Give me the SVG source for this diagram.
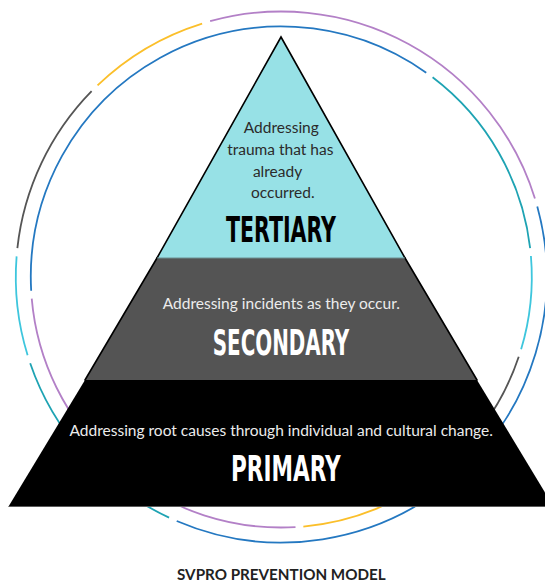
<svg xmlns="http://www.w3.org/2000/svg" width="545" height="583" viewBox="0 0 545 583">
  <style>
    .arc { fill: none; stroke-width: 1.8; stroke-linecap: butt; }
    .purple { stroke: #b380c7; }
    .yellow { stroke: #fbbf2a; }
    .blue { stroke: #2478c1; }
    .teal { stroke: #1ea3b3; }
    .cyan { stroke: #3ec6dd; }
    .grey { stroke: #555555; }
    .edge { fill: none; stroke: #000000; stroke-width: 1.6; stroke-linecap: round; }
    .desc { font-family: Lato, "Open Sans", "Liberation Sans", sans-serif; font-size: 15.5px; text-anchor: middle; }
    .head { font-family: "Liberation Sans Narrow", "DejaVu Sans Condensed", "Liberation Sans", sans-serif; font-weight: bold; font-size: 35px; text-anchor: middle; }
    .dark { fill: #2b2b2b; }
    .light { fill: #ececec; }
    .white { fill: #ffffff; }
    .caption { font-family: Lato, "Open Sans", "Liberation Sans", sans-serif; font-weight: bold; font-size: 15.2px; text-anchor: middle; fill: #222222; }
  </style>

  <!-- two concentric rings of coloured arcs, centre (281.3, 277) -->
  <g id="rings">
    <!-- outer ring, r = 265.5 -->
    <path class="arc grey" d="M17.38,248.10 A265.5,265.5 0 0 1 91.61,91.24"/>
    <path class="arc yellow" d="M97.54,85.37 A265.5,265.5 0 0 1 202.13,23.58"/>
    <path class="arc purple" d="M210.12,21.22 A265.5,265.5 0 0 1 534.93,198.49"/>
    <path class="arc blue" d="M537.27,206.49 A265.5,265.5 0 0 1 176.71,521.03"/>
    <path class="arc teal" d="M169.09,517.63 A265.5,265.5 0 0 1 30.18,363.21"/>
    <path class="arc cyan" d="M27.61,355.30 A265.5,265.5 0 0 1 16.60,256.40"/>
    <!-- inner ring, r = 250.5 -->
    <path class="arc blue" d="M31.18,290.77 A250.5,250.5 0 0 1 426.23,72.68"/>
    <path class="arc teal" d="M432.58,77.34 A250.5,250.5 0 0 1 530.14,248.21"/>
    <path class="arc cyan" d="M530.92,256.04 A250.5,250.5 0 0 1 521.13,349.32"/>
    <path class="arc grey" d="M518.74,356.82 A250.5,250.5 0 0 1 445.31,466.34"/>
    <path class="arc yellow" d="M439.34,471.35 A250.5,250.5 0 0 1 303.35,526.53"/>
    <path class="arc purple" d="M295.50,527.10 A250.5,250.5 0 0 1 31.73,298.62"/>
  </g>

  <!-- pyramid levels, bottom to top -->
  <g id="primary">
    <path d="M85,380 L477,380 L553.5,506.5 L8.5,506.5 Z" fill="#000000"/>
    <line x1="8.5" y1="506.5" x2="545" y2="506.5" stroke="#5a5a5a" stroke-width="1"/>
    <text class="desc light" x="281.2" y="435.5">Addressing root causes through individual and cultural change.</text>
    <text class="head white" x="285.8" y="480.7" textLength="109.6" lengthAdjust="spacingAndGlyphs">PRIMARY</text>
  </g>

  <g id="secondary">
    <path d="M157,258 L405,258 L477,380 L85,380 Z" fill="#545454"/>
    <path class="edge" d="M157,258 L85,380 M405,258 L477,380"/>
    <text class="desc light" x="281.3" y="309">Addressing incidents as they occur.</text>
    <text class="head white" x="281" y="355" textLength="136.6" lengthAdjust="spacingAndGlyphs">SECONDARY</text>
  </g>

  <g id="tertiary">
    <path d="M281,37 L405,258 L157,258 Z" fill="#97e1e6"/>
    <path class="edge" d="M157,258 L281,37 L405,258"/>
    <line x1="157" y1="258" x2="405" y2="258" stroke="#6d8f92" stroke-width="1"/>
    <text class="desc dark" x="281.3" y="133.3">Addressing</text>
    <text class="desc dark" x="280.3" y="155">trauma that has</text>
    <text class="desc dark" x="277.5" y="176.7">already</text>
    <text class="desc dark" x="282.8" y="198.3">occurred.</text>
    <text class="head" x="281" y="241.7" fill="#000000" textLength="110" lengthAdjust="spacingAndGlyphs">TERTIARY</text>
  </g>

  <g id="title">
    <text class="caption" x="281.3" y="580.3">SVPRO PREVENTION MODEL</text>
  </g>
</svg>
